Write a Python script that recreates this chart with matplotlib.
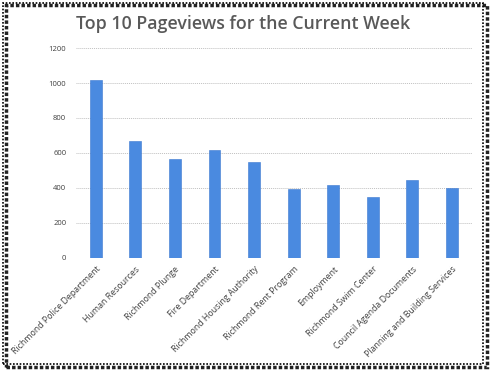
import matplotlib
matplotlib.use('Agg')
import matplotlib.pyplot as plt
from matplotlib.patches import Rectangle

# top pages this week
pages = ['Richmond Police Department', 'Human Resources', 'Richmond Plunge',
         'Fire Department', 'Richmond Housing Authority', 'Richmond Rent Program',
         'Employment', 'Richmond Swim Center', 'Council Agenda Documents',
         'Planning and Building Services']
views = [1015, 667, 566, 615, 549, 394, 415, 349, 444, 398]
yticks = [0, 200, 400, 600, 800, 1000, 1200]

plt.rcParams['font.family'] = ['Open Sans', 'DejaVu Sans']

fig = plt.figure(figsize=(4.93, 3.76), dpi=100)
ax = fig.add_axes([0.154, 0.315, 0.803, 0.557])

x = range(len(pages))
ax.bar(x, views, width=0.3, color='#4a8ae0', edgecolor='#3b78d0', linewidth=0.4, zorder=3)

ax.set_ylim(0, 1200)
ax.set_xlim(-0.5, len(pages) - 0.5)
ax.set_yticks(yticks)
ax.set_yticklabels([str(t) for t in yticks], fontsize=5.5, color='#404040')
ax.set_xticks(list(x))
ax.set_xticklabels(pages, rotation=45, ha='right', rotation_mode='anchor',
                   fontsize=6.3, color='#404040')
ax.tick_params(length=0, pad=7)
ax.tick_params(axis='x', pad=5)
ax.grid(axis='y', color='#c0c0c0', linestyle=(0, (1, 1)), linewidth=0.7, zorder=0)
for s in ax.spines.values():
    s.set_visible(False)

fig.text(0.493, 0.935, 'Top 10 Pageviews for the Current Week', ha='center', va='center',
         fontsize=12.8, fontweight='semibold', color='#595959')

# dotted frame with shadow, like the pasted picture
fig.patches.append(Rectangle((0.012, 0.025), 0.975, 0.962, transform=fig.transFigure,
                             fill=False, edgecolor='#222222', linewidth=2.5,
                             linestyle=(0, (1, 0.6))))
fig.patches.append(Rectangle((0.006, 0.032), 0.974, 0.96, transform=fig.transFigure,
                             fill=False, edgecolor='black', linewidth=1.2,
                             linestyle=(0, (1, 1))))

fig.savefig('out.png', dpi=100)
